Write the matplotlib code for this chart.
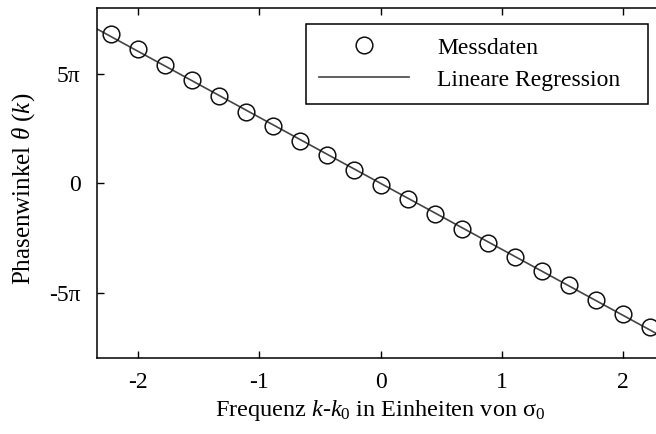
import matplotlib
matplotlib.use('Agg')

import numpy as np
import matplotlib.pyplot as plt

# Messpunkte: Frequenz (in sigma_0) und Phase (in Vielfachen von pi)
frequenz = [-2.222, -2.0, -1.778, -1.556, -1.333, -1.111, -0.889, -0.667, -0.444, -0.222,
            0.0, 0.222, 0.444, 0.667, 0.889, 1.111, 1.333, 1.556, 1.778, 2.0, 2.222]
phase_pi = [6.84, 6.13, 5.42, 4.70, 3.99, 3.28, 2.62, 1.95, 1.29, 0.62,
            -0.06, -0.73, -1.40, -2.07, -2.73, -3.37, -4.01, -4.66, -5.33, -5.99, -6.59]

ytick_pos = [-5, 0, 5]
ytick_lbl = ['-5π', '0', '5π']
xtick_pos = [-2, -1, 0, 1, 2]
xtick_lbl = ['-2', '-1', '0', '1', '2']

plt.rcParams['font.family'] = ['Liberation Serif', 'DejaVu Serif']
plt.rcParams['mathtext.fontset'] = 'custom'
plt.rcParams['mathtext.rm'] = 'Liberation Serif'
plt.rcParams['mathtext.it'] = 'Liberation Serif:italic'

x = np.array(frequenz)
y = np.array(phase_pi) * np.pi

# lineare Regression
m, b = np.polyfit(x, y, 1)
xr = np.array([-2.4, 2.4])

fig = plt.figure(figsize=(6.56, 4.34), dpi=100)
ax = fig.add_axes([0.1483, 0.1744, 0.864, 0.8065])

ax.plot(x, y, 'o', ms=12, mfc='none', mec='#111111', mew=1.1, label='Messdaten', zorder=3)
ax.plot(xr, m * xr + b, '-', color='#444444', lw=1.2, label='Lineare Regression', zorder=2)

ax.set_xlim(-2.337, 2.337)
ax.set_ylim(-8 * np.pi, 8 * np.pi)
ax.set_xticks(xtick_pos)
ax.set_xticklabels(xtick_lbl)
ax.set_yticks([v * np.pi for v in ytick_pos])
ax.set_yticklabels(ytick_lbl)

ax.tick_params(direction='in', length=5, width=1, labelsize=17,
               top=True, right=True, colors='black')
ax.tick_params(axis='x', pad=10)
ax.tick_params(axis='y', pad=12)
for s in ax.spines.values():
    s.set_linewidth(1.1)

ax.set_xlabel(r'Frequenz $\mathit{k}$-$\mathit{k}_0$ in Einheiten von $\mathrm{\sigma}_0$', fontsize=17.5)
ax.xaxis.set_label_coords(0.5, -0.113)
ax.set_ylabel(r'Phasenwinkel $\theta$ ($\mathit{k}$)', fontsize=18)
ax.yaxis.set_label_coords(-0.106, 0.483)

leg = ax.legend(loc='upper left', bbox_to_anchor=(0.368, 0.955, 0.604, 0.0), mode='expand',
                fontsize=17, frameon=True, fancybox=False, framealpha=1, edgecolor='black',
                handlelength=3.8, handletextpad=1.2, borderpad=0.55, labelspacing=0.45,
                borderaxespad=0)
leg.get_frame().set_linewidth(1.1)

plt.savefig('out.png', dpi=100)
